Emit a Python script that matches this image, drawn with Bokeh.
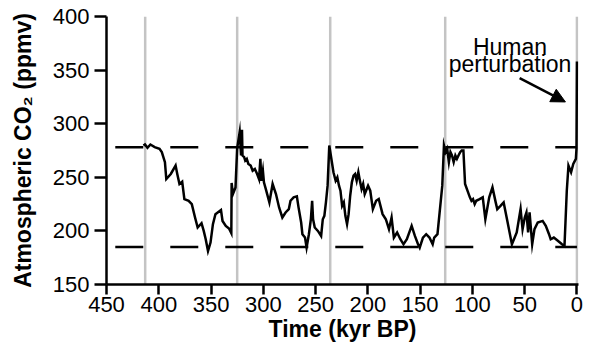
from bokeh.plotting import figure
from bokeh.models import Range1d, FixedTicker, Arrow, NormalHead
from bokeh.embed import file_html
from bokeh.resources import INLINE
from bokeh.core.properties import value

# Vostok-style CO2 record (age in kyr BP, CO2 in ppmv)
age_kyr = [414.7, 413.2, 410.8, 408.0, 403.9, 399.3, 397.1, 394.1, 392.8, 388.5,
           383.9, 382.3, 380.2, 377.6, 375.5, 371.4, 368.4, 365.3, 362.8, 359.1,
           357.0, 355.1, 352.9, 350.5, 348.2, 345.8, 340.5, 339.0, 335.9, 332.8,
           330.6, 330.3, 329.1, 326.6, 325.0, 322.6, 321.3, 320.4, 319.9, 318.3,
           317.3, 315.8, 314.3, 312.1, 310.2, 308.1, 305.9, 304.1, 302.8, 301.9,
           300.4, 299.4, 297.2, 294.2, 291.1, 287.9, 284.9, 281.8, 278.7, 275.6,
           274.0, 271.0, 267.9, 266.3, 263.8, 262.6, 260.1, 258.6, 256.4, 254.5,
           253.3, 252.4, 250.8, 247.8, 244.7, 243.1, 241.6, 240.1, 238.5, 236.9,
           235.4, 232.9, 230.8, 229.2, 227.6, 226.2, 224.6, 223.0, 221.5, 219.9,
           218.4, 216.9, 215.3, 213.7, 212.2, 210.7, 209.1, 207.6, 206.0, 204.5,
           203.0, 199.8, 197.7, 195.2, 192.1, 189.6, 185.9, 182.8, 179.8, 177.3,
           175.1, 172.0, 168.9, 165.9, 162.7, 158.1, 155.0, 152.0, 150.4, 147.3,
           144.2, 141.1, 138.0, 136.5, 133.4, 128.8, 127.2, 125.6, 124.1, 122.5,
           121.0, 119.5, 117.9, 116.3, 114.8, 113.3, 111.7, 110.2, 108.6, 107.0,
           102.4, 100.9, 99.4, 97.8, 96.3, 93.1, 90.1, 87.6, 83.9, 80.8,
           77.7, 76.2, 73.1, 70.1, 66.9, 62.2, 57.6, 53.9, 52.0, 49.9,
           48.3, 46.7, 45.3, 42.8, 40.6, 37.5, 32.8, 29.8, 26.7, 25.1,
           22.1, 18.0, 14.3, 11.9, 9.7, 8.1, 5.6, 3.5, 1.0, 0.4,
           0.0]
co2_ppmv = [279.7, 280.6, 277.5, 280.6, 278.2, 276.6, 273.5, 264.1, 248.4, 253.1,
            260.9, 253.1, 243.8, 245.9, 229.7, 228.1, 225.0, 212.5, 203.2, 207.2,
            200.0, 192.2, 181.2, 189.1, 206.3, 215.6, 219.4, 209.3, 204.7, 202.2,
            197.8, 244.7, 234.4, 240.6, 277.2, 292.2, 270.3, 294.4, 270.3, 268.8,
            265.6, 267.2, 262.5, 260.9, 256.2, 257.8, 253.1, 248.4, 267.2, 246.8,
            256.2, 245.3, 237.5, 226.6, 243.8, 234.4, 221.9, 212.5, 217.2, 220.3,
            228.1, 231.3, 232.2, 221.9, 207.8, 196.9, 193.8, 184.4, 196.9, 210.9,
            228.1, 210.9, 203.2, 200.0, 195.3, 210.9, 214.1, 226.6, 242.2, 279.7,
            270.3, 254.7, 246.8, 250.0, 242.2, 237.5, 223.4, 226.6, 214.1, 206.3,
            215.6, 232.8, 245.3, 251.6, 253.1, 246.8, 254.7, 246.8, 239.1, 243.8,
            234.4, 242.2, 237.5, 220.3, 228.1, 229.7, 215.6, 210.9, 201.6, 212.5,
            193.8, 198.5, 192.2, 187.5, 192.2, 204.7, 195.3, 187.5, 184.4, 193.8,
            196.9, 193.8, 187.5, 193.8, 196.9, 242.2, 279.7, 273.5, 276.6, 264.1,
            273.5, 270.3, 264.1, 270.3, 267.2, 270.3, 273.5, 275.0, 275.0, 243.8,
            231.3, 228.1, 229.7, 225.0, 228.1, 229.7, 231.3, 210.9, 231.3, 240.6,
            226.6, 220.3, 223.4, 226.6, 210.9, 187.5, 198.5, 220.3, 201.6, 212.5,
            217.2, 198.5, 217.2, 187.5, 201.6, 207.8, 209.3, 204.7, 196.9, 192.2,
            193.8, 190.6, 187.5, 185.9, 237.5, 260.9, 254.7, 262.5, 267.2, 277.0,
            358.0]

termination_kyr = [413, 325, 236, 126, 0]
interglacial_ppmv = 278
glacial_ppmv = 185
x_ticks = [450, 400, 350, 300, 250, 200, 150, 100, 50, 0]
y_ticks = [150, 200, 250, 300, 350, 400]
annotation_lines = ["Human", "perturbation"]

FONT = "Liberation Sans"

p = figure(width=584, height=344,
           x_range=Range1d(450, -1.5), y_range=Range1d(150, 400),
           output_backend="svg", toolbar_location=None,
           min_border_left=106, min_border_right=6, min_border_top=16,
           min_border_bottom=0)
p.outline_line_color = None
p.xgrid.visible = False
p.ygrid.visible = False
p.background_fill_color = "white"
p.border_fill_color = "white"

for ax in (p.xaxis, p.yaxis):
    ax.axis_line_width = 2.5
    ax.axis_line_color = "black"
    ax.major_tick_line_width = 2.5
    ax.major_tick_line_color = "black"
    ax.minor_tick_line_color = None
    ax.major_tick_in = 0
    ax.major_label_text_font = FONT
    ax.major_label_text_font_size = "22px"
    ax.major_label_text_color = "black"
    ax.axis_label_text_font = FONT
    ax.axis_label_text_font_size = "23px"
    ax.axis_label_text_font_style = "bold"
    ax.axis_label_text_color = "black"

p.xaxis.ticker = FixedTicker(ticks=x_ticks)
p.yaxis.ticker = FixedTicker(ticks=y_ticks)
p.xaxis.major_tick_out = 10
p.yaxis.major_tick_out = 12
p.xaxis.major_label_standoff = 2
p.yaxis.major_label_standoff = 5
p.xaxis.axis_label_standoff = 1
p.yaxis.axis_label_standoff = 14
p.xaxis.axis_label = "Time (kyr BP)"
p.yaxis.axis_label = "Atmospheric CO\u2082 (ppmv)"

# terminations (grey verticals)
p.segment(x0=termination_kyr, y0=[150] * len(termination_kyr),
          x1=termination_kyr, y1=[400] * len(termination_kyr),
          line_color="#c4c4c4", line_width=2.5)

# interglacial / glacial reference levels
for lvl in (interglacial_ppmv, glacial_ppmv):
    p.line([441.6, 0], [lvl, lvl], line_color="black", line_width=2.5,
           line_dash="28 27")

# CO2 record
p.line(age_kyr, co2_ppmv, line_color="black", line_width=2.5, line_join="miter")

# annotation
p.text(x=[64], y=[372.0], text=[annotation_lines[0]], text_align="center",
       text_baseline="alphabetic", text_font=value(FONT), text_font_size="23px",
       text_color="black")
p.text(x=[64], y=[355.5], text=[annotation_lines[1]], text_align="center",
       text_baseline="alphabetic", text_font=value(FONT), text_font_size="23px",
       text_color="black")
p.add_layout(Arrow(end=NormalHead(size=14, fill_color="black", line_color="black"),
                   x_start=54.8, y_start=342.5, x_end=11.0, y_end=320.3,
                   line_width=2.5, line_color="black"))

open("out.html", "w").write(file_html(p, INLINE))
